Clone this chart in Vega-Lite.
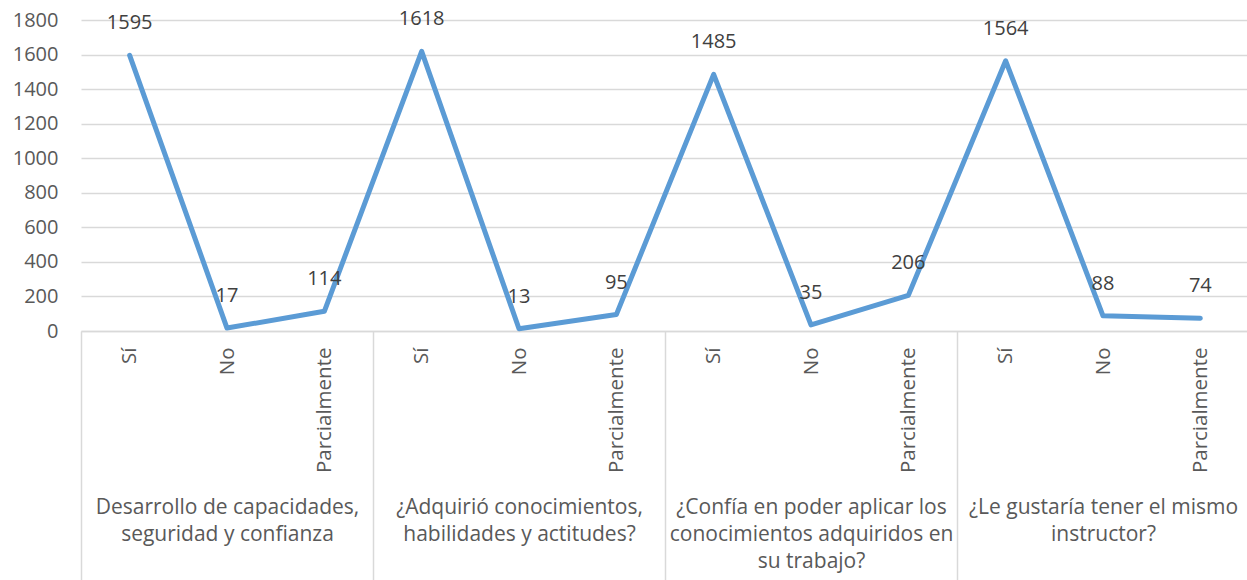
{
  "$schema": "https://vega.github.io/schema/vega-lite/v6.json",
  "autosize": {"type": "none"},
  "padding": {"left": 81, "top": 20, "right": 0, "bottom": 249},
  "width": 1168,
  "height": 311,
  "background": "white",
  "config": {
    "view": {"stroke": null},
    "font": "Open Sans"
  },
  "data": {
    "values": [
      {"id": "1|Sí", "grupo": "Desarrollo de capacidades,|seguridad y confianza", "respuesta": "Sí", "valor": 1595},
      {"id": "2|No", "grupo": "Desarrollo de capacidades,|seguridad y confianza", "respuesta": "No", "valor": 17},
      {"id": "3|Parcialmente", "grupo": "Desarrollo de capacidades,|seguridad y confianza", "respuesta": "Parcialmente", "valor": 114},
      {"id": "4|Sí", "grupo": "¿Adquirió conocimientos,|habilidades y actitudes?", "respuesta": "Sí", "valor": 1618},
      {"id": "5|No", "grupo": "¿Adquirió conocimientos,|habilidades y actitudes?", "respuesta": "No", "valor": 13},
      {"id": "6|Parcialmente", "grupo": "¿Adquirió conocimientos,|habilidades y actitudes?", "respuesta": "Parcialmente", "valor": 95},
      {"id": "7|Sí", "grupo": "¿Confía en poder aplicar los|conocimientos adquiridos en|su trabajo?", "respuesta": "Sí", "valor": 1485},
      {"id": "8|No", "grupo": "¿Confía en poder aplicar los|conocimientos adquiridos en|su trabajo?", "respuesta": "No", "valor": 35},
      {"id": "9|Parcialmente", "grupo": "¿Confía en poder aplicar los|conocimientos adquiridos en|su trabajo?", "respuesta": "Parcialmente", "valor": 206},
      {"id": "10|Sí", "grupo": "¿Le gustaría tener el mismo|instructor?", "respuesta": "Sí", "valor": 1564},
      {"id": "11|No", "grupo": "¿Le gustaría tener el mismo|instructor?", "respuesta": "No", "valor": 88},
      {"id": "12|Parcialmente", "grupo": "¿Le gustaría tener el mismo|instructor?", "respuesta": "Parcialmente", "valor": 74}
    ]
  },
  "layer": [
    {
      "layer": [
        {
          "mark": {"type": "line", "color": "#5B9BD5", "strokeWidth": 5, "strokeCap": "round", "strokeJoin": "round"},
          "encoding": {}
        },
        {
          "mark": {"type": "text", "fontSize": 20, "color": "#404040", "baseline": "alphabetic", "align": "center", "dy": -26},
          "encoding": {"text": {"field": "valor", "type": "quantitative"}}
        }
      ],
      "encoding": {
        "x": {
          "field": "id", "type": "nominal", "sort": null,
          "scale": {"paddingInner": 0, "paddingOuter": 0},
          "axis": {
            "title": null, "orient": "bottom",
            "labelExpr": "split(datum.label, '|')[1]",
            "labelAngle": -90, "labelFontSize": 20.5, "labelColor": "#595959",
            "labelPadding": 16, "ticks": false,
            "domainColor": "#d9d9d9", "domainWidth": 1.5, "grid": false
          }
        },
        "y": {
          "field": "valor", "type": "quantitative",
          "scale": {"domain": [0, 1800], "nice": false},
          "axis": {
            "title": null, "values": [0, 200, 400, 600, 800, 1000, 1200, 1400, 1600, 1800],
            "format": "d",
            "labelFontSize": 20, "labelColor": "#595959", "labelPadding": 23,
            "ticks": false, "domain": false, "grid": true, "gridColor": "#d9d9d9", "gridWidth": 1.5
          }
        }
      }
    },
    {
      "mark": {"type": "point", "opacity": 0},
      "encoding": {
        "x": {
          "field": "grupo", "type": "nominal", "sort": null,
          "scale": {"paddingInner": 0, "paddingOuter": 0},
          "axis": {
            "title": null, "orient": "bottom",
            "tickOffset": -146, "labelOffset": 146,
            "tickSize": 249, "tickColor": "#d9d9d9", "tickWidth": 1.5,
            "domain": false, "grid": false,
            "labelExpr": "split(datum.label, '|')",
            "labelPadding": -84,
            "labelFontSize": 21, "labelColor": "#595959", "labelLineHeight": 27,
            "labelLimit": 400, "labelOverlap": false, "labelFlush": false, "labelAngle": 0
          }
        }
      }
    }
  ],
  "resolve": {"scale": {"x": "independent"}, "axis": {"x": "independent"}}
}
